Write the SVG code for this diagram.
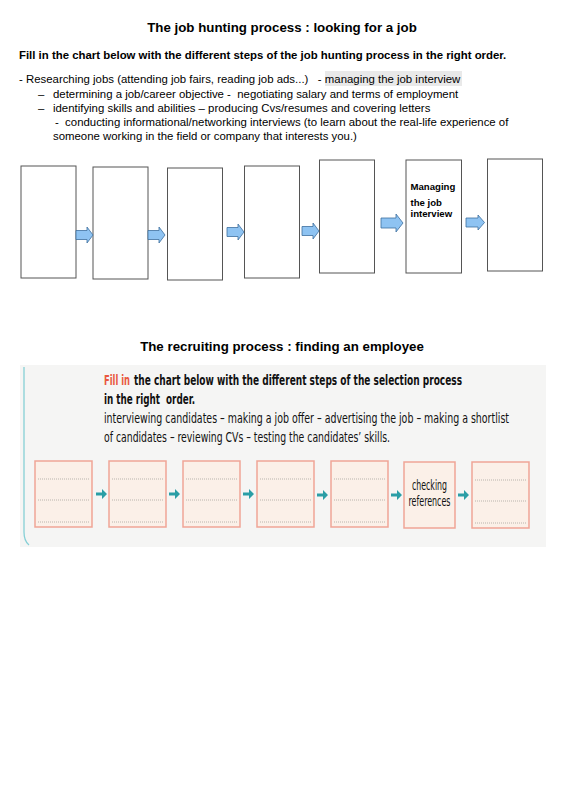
<svg xmlns="http://www.w3.org/2000/svg" width="565" height="800" viewBox="0 0 565 800">
<style>
.t{font-family:"Liberation Sans",Arial,sans-serif;fill:#000}
.h{font-size:13.3px;font-weight:bold}
.b{font-size:11.4px;font-weight:bold}
.r{font-size:11.4px}
.box{fill:#fff;stroke:#555;stroke-width:1}
.ar{fill:#8ec3f2;stroke:#3d6f9e;stroke-width:0.8}
.sc{font-family:"DejaVu Sans Condensed","Open Sans","Noto Sans",sans-serif;font-stretch:condensed;fill:#111;font-size:14.5px}
.red{fill:#e9573f}
.pbox{fill:#fbf0e8;stroke:#f0a596;stroke-width:1.5}
.dl{stroke:#a9a5a0;stroke-width:0.8;stroke-dasharray:1 1}
.ta{fill:#2a9ea6}
</style>
<rect width="565" height="800" fill="#fff"/>
<text class="t h" x="282" y="32" text-anchor="middle">The job hunting process : looking for a job</text>
<text class="t b" x="19" y="59">Fill in the chart below with the different steps of the job hunting process in the right order.</text>
<rect x="325" y="71" width="137" height="15" fill="#e9e9e9"/>
<text class="t r" x="19" y="83" xml:space="preserve">- Researching jobs (attending job fairs, reading job ads...)   - managing the job interview</text>
<text class="t r" x="38" y="98">–</text>
<text class="t r" x="53" y="98" xml:space="preserve">determining a job/career objective -  negotiating salary and terms of employment</text>
<text class="t r" x="38" y="112">–</text>
<text class="t r" x="53" y="112">identifying skills and abilities – producing Cvs/resumes and covering letters</text>
<text class="t r" x="55" y="126" xml:space="preserve">-  conducting informational/networking interviews (to learn about the real-life experience of</text>
<text class="t r" x="53" y="140">someone working in the field or company that interests you.)</text>

<g id="job-step-1"><rect class="box" x="21" y="166" width="55" height="112"/></g>
<g id="job-step-2"><rect class="box" x="93" y="167" width="55" height="112"/></g>
<g id="job-step-3"><rect class="box" x="167.5" y="168" width="55" height="112"/></g>
<g id="job-step-4"><rect class="box" x="244.5" y="166" width="55" height="112"/></g>
<g id="job-step-5"><rect class="box" x="319.5" y="160" width="55" height="113"/></g>
<g id="job-step-6"><rect class="box" x="406" y="160" width="55.5" height="113"/>
<text class="t" font-size="9.6" font-weight="bold" x="410.5" y="190">Managing</text>
<text class="t" font-size="9.6" font-weight="bold" x="410.5" y="206">the job</text>
<text class="t" font-size="9.6" font-weight="bold" x="410.5" y="217">interview</text></g>
<g id="job-step-7"><rect class="box" x="487.5" y="159" width="55" height="112"/></g>

<g id="job-arrows">
<path class="ar" d="M76,230.5 H87 V227 L93,235 L87,243 V239.5 H76 Z"/>
<path class="ar" d="M148,230.5 H159 V227 L165,235 L159,243 V239.5 H148 Z"/>
<path class="ar" d="M227,227.5 H238 V224 L244,232 L238,240 V236.5 H227 Z"/>
<path class="ar" d="M302,226.5 H313 V223 L319,231 L313,239 V235.5 H302 Z"/>
<path class="ar" d="M381,218 H396 V214 L403,223 L396,232 V228 H381 Z"/>
<path class="ar" d="M466,218 H478 V215 L484.5,222.5 L478,230 V227 H466 Z"/>
</g>

<text class="t h" x="282" y="351" text-anchor="middle">The recruiting process : finding an employee</text>

<rect x="20" y="365" width="526" height="182" fill="#f5f5f4"/>
<path d="M24,367 V532 Q24,541 29,545" fill="none" stroke="#86d0d6" stroke-width="1.3"/>
<text class="sc red" transform="translate(104,385) scale(0.6,1)" x="0" y="0" font-weight="600" textLength="43.3" lengthAdjust="spacingAndGlyphs">Fill in</text>
<text class="sc" transform="translate(134,385) scale(0.7,1)" x="0" y="0" font-weight="bold" textLength="468.6" lengthAdjust="spacingAndGlyphs">the chart below with the different steps of the selection process</text>
<text class="sc" transform="translate(104,404) scale(0.7,1)" x="0" y="0" font-weight="bold" textLength="130" lengthAdjust="spacingAndGlyphs" xml:space="preserve">in the right  order.</text>
<text class="sc" transform="translate(104,423) scale(0.7,1)" x="0" y="0" textLength="578.6" lengthAdjust="spacingAndGlyphs">interviewing candidates – making a job offer – advertising the job – making a shortlist</text>
<text class="sc" transform="translate(104,442) scale(0.7,1)" x="0" y="0" textLength="408.6" lengthAdjust="spacingAndGlyphs">of candidates – reviewing CVs – testing the candidates’ skills.</text>

<g id="rec-step-1"><rect class="pbox" x="35" y="461" width="57" height="66"/>
<path class="dl" d="M38,479 H89 M38,500 H89 M38,522 H89"/></g>
<g id="rec-step-2"><rect class="pbox" x="109" y="461" width="57" height="66"/>
<path class="dl" d="M112,479 H163 M112,500 H163 M112,522 H163"/></g>
<g id="rec-step-3"><rect class="pbox" x="183" y="461" width="57" height="66"/>
<path class="dl" d="M186,479 H237 M186,500 H237 M186,522 H237"/></g>
<g id="rec-step-4"><rect class="pbox" x="257" y="461" width="57" height="66"/>
<path class="dl" d="M260,479 H311 M260,500 H311 M260,522 H311"/></g>
<g id="rec-step-5"><rect class="pbox" x="331" y="461" width="57" height="66"/>
<path class="dl" d="M334,479 H385 M334,500 H385 M334,522 H385"/></g>
<g id="rec-step-6"><rect class="pbox" x="404" y="462" width="51" height="66"/>
<text class="sc" transform="translate(429.5,490) scale(0.7,1)" x="0" y="0" text-anchor="middle" font-size="13" textLength="50" lengthAdjust="spacingAndGlyphs">checking</text>
<text class="sc" transform="translate(429.5,506) scale(0.7,1)" x="0" y="0" text-anchor="middle" font-size="13" textLength="60" lengthAdjust="spacingAndGlyphs">references</text></g>
<g id="rec-step-7"><rect class="pbox" x="472" y="462" width="57" height="66"/>
<path class="dl" d="M475,480 H526 M475,501 H526 M475,523 H526"/></g>

<g id="rec-arrows">
<path class="ta" d="M96,492.5 H102 V489 L107,494 L102,499 V495.5 H96 Z"/>
<path class="ta" d="M169,492.5 H175 V489 L180,494 L175,499 V495.5 H169 Z"/>
<path class="ta" d="M243,492.5 H249 V489 L254,494 L249,499 V495.5 H243 Z"/>
<path class="ta" d="M317,493.5 H323 V490 L328,495 L323,500 V496.5 H317 Z"/>
<path class="ta" d="M391,493.5 H397 V490 L402,495 L397,500 V496.5 H391 Z"/>
<path class="ta" d="M458,493.5 H464 V490 L469,495 L464,500 V496.5 H458 Z"/>
</g>
</svg>
